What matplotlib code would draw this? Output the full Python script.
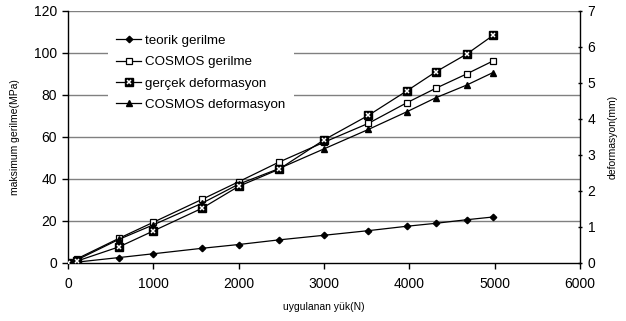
import matplotlib
matplotlib.use("Agg")
import matplotlib.pyplot as plt
from matplotlib.legend_handler import HandlerTuple

plt.rcParams['font.family'] = ['Liberation Sans', 'DejaVu Sans']

load = [0, 100, 600, 1000, 1570, 2000, 2470, 3000, 3520, 3970, 4310, 4670, 4980]
teorik_gerilme = [0, 0.4, 2.6, 4.4, 7.0, 8.8, 11.0, 13.2, 15.4, 17.5, 18.9, 20.6, 21.9]
cosmos_gerilme = [0, 1.9, 11.8, 19.4, 30.3, 38.7, 48.0, 57.5, 66.5, 76.3, 83.2, 90.0, 96.2]
gercek_deformasyon = [0, 0.05, 0.45, 0.89, 1.52, 2.13, 2.60, 3.42, 4.10, 4.78, 5.31, 5.80, 6.32]
cosmos_deformasyon = [0, 0.08, 0.66, 1.06, 1.66, 2.19, 2.62, 3.17, 3.71, 4.20, 4.59, 4.94, 5.29]

labels = ["teorik gerilme", "COSMOS gerilme", "gerçek deformasyon", "COSMOS deformasyon"]
x_ticks = [0, 1000, 2000, 3000, 4000, 5000, 6000]
y_left_ticks = [0, 20, 40, 60, 80, 100, 120]
y_right_ticks = [0, 1, 2, 3, 4, 5, 6, 7]

fig = plt.figure(figsize=(6.26, 3.21), dpi=100)
ax = fig.add_axes([68/626, 58/321, 512/626, 252/321])
ax2 = ax.twinx()

ax.set_xlim(0, 6000)
ax.set_ylim(0, 120)
ax2.set_ylim(0, 7)
ax.set_xticks(x_ticks)
ax.set_yticks(y_left_ticks)
ax2.set_yticks(y_right_ticks)

for y in y_left_ticks[1:]:
    ax.axhline(y, color='#808080', lw=1.0, zorder=0)

for a in (ax, ax2):
    a.spines['top'].set_visible(False)
for s in ('left', 'bottom'):
    ax.spines[s].set_color('black')
    ax.spines[s].set_linewidth(1.0)
ax.spines['right'].set_visible(False)
ax2.spines['left'].set_visible(False)
ax2.spines['bottom'].set_visible(False)
ax2.spines['right'].set_linewidth(1.0)

ax.tick_params(axis='x', labelsize=10, length=4, width=1, direction='out', pad=6)
ax.tick_params(axis='y', labelsize=10, length=4, width=1, direction='out', pad=4)
ax2.tick_params(axis='y', labelsize=10, length=3, width=1, direction='inout', pad=4)

l1, = ax.plot(load, teorik_gerilme, color='black', lw=0.9, marker='D', ms=3.3,
              mfc='black', mec='black', zorder=3)
l2, = ax.plot(load, cosmos_gerilme, color='black', lw=0.9, marker='s', ms=3.8,
              mfc='white', mec='black', mew=0.9, zorder=3)
l3, = ax2.plot(load, gercek_deformasyon, color='black', lw=0.9, marker='s', ms=6.4,
               mfc='black', mec='black', zorder=3)
l3x, = ax2.plot(load, gercek_deformasyon, color='none', lw=0, marker='x', ms=3.2,
                mec='white', mew=1.1, zorder=4)
l4, = ax2.plot(load, cosmos_deformasyon, color='black', lw=0.9, marker='^', ms=4.3,
               mfc='black', mec='black', zorder=3)

ax.set_xlabel("uygulanan yük(N)", fontsize=7.5, labelpad=8)
ax.set_ylabel("maksimum gerilme(MPa)", fontsize=7.5, labelpad=10)
ax2.set_ylabel("deformasyon(mm)", fontsize=7.5, labelpad=9)

leg = ax2.legend([l1, l2, (l3, l3x), l4], labels,
                 handler_map={tuple: HandlerTuple(ndivide=1, pad=0)},
                 loc='upper left', bbox_to_anchor=(0.065, 0.965),
                 frameon=True, fancybox=False, edgecolor='none', facecolor='white',
                 framealpha=1.0, fontsize=9.6, handlelength=1.9, handletextpad=0.3,
                 labelspacing=0.68, borderpad=0.6)
leg.set_zorder(10)

fig.savefig("out.png", dpi=100)
